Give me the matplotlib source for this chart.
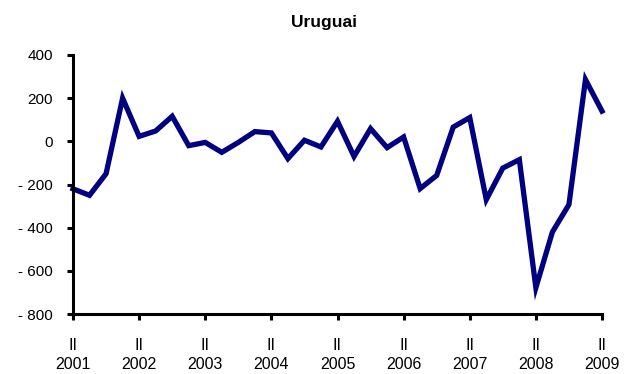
import matplotlib
matplotlib.use("Agg")
import matplotlib.pyplot as plt

plt.rcParams['font.family'] = ['Liberation Sans', 'DejaVu Sans']

# Quarterly series, 2001 Q2 .. 2009 Q2
values = [-220, -250, -150, 200, 23, 48, 116, -20, -5, -51,
          -5, 45, 39, -80, 5, -26, 93, -70, 59, -29,
          20, -219, -158, 66, 110, -270, -124, -85, -678, -420,
          -293, 286, 140]
years = ['2001', '2002', '2003', '2004', '2005', '2006', '2007', '2008', '2009']
quarter_label = 'II'
yticks = [-800, -600, -400, -200, 0, 200, 400]

fig = plt.figure(figsize=(6.31, 3.74), dpi=100)
ax = fig.add_axes([73/631, 60/374, (602-73)/631, (314-55)/374])

x = list(range(len(values)))
ax.plot(x, values, color='#000080', lw=3.8, solid_joinstyle='miter', clip_on=False)

ax.set_xlim(0, len(values) - 1)
ax.set_ylim(-800, 400)

ax.set_xticks(list(range(0, len(values), 4)))
ax.set_xticklabels([f'{quarter_label}\n{y}' for y in years], linespacing=1.4)
ax.set_yticks(yticks)
ax.set_yticklabels([f'- {abs(v)}' if v < 0 else str(v) for v in yticks])

for s in ['top', 'right']:
    ax.spines[s].set_visible(False)
for s in ['left', 'bottom']:
    ax.spines[s].set_linewidth(2.2)
    ax.spines[s].set_color('black')

ax.tick_params(axis='both', direction='out', length=4, width=2.2, labelsize=11, colors='black')
ax.tick_params(axis='x', pad=13, labelsize=11.5)
ax.tick_params(axis='y', pad=10.5)

fig.text(324.5/631, (374-27)/374, 'Uruguai', fontsize=12.5, fontweight='bold',
         ha='center', va='baseline')

fig.savefig('out.png', dpi=100)
